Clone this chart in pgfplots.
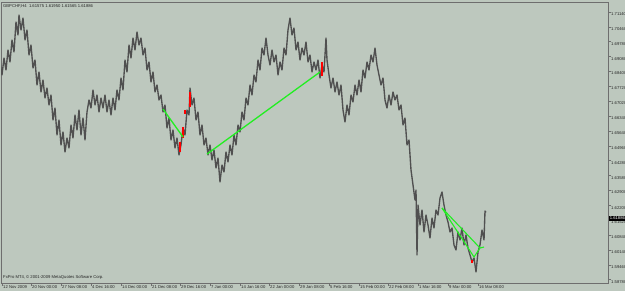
\documentclass[border=0pt]{standalone}
\usepackage{pgfplots}
\pgfplotsset{compat=1.18}
\usepackage{fontspec}
\setmainfont{Liberation Sans}
\definecolor{bgc}{HTML}{BDC8BE}
\definecolor{barc}{HTML}{505050}
\definecolor{framec}{HTML}{6E6E6E}
\definecolor{trend}{HTML}{22EE22}
\newcommand{\mtfont}{\fontsize{4.2}{4.6}\selectfont}
\begin{document}
\begin{tikzpicture}
\fill[bgc] (0,0) rectangle (625bp,291bp);
\useasboundingbox (0,0) rectangle (625bp,291bp);
\begin{axis}[
  at={(1bp,289bp)}, anchor=north west, scale only axis,
  width=607bp, height=281bp,
  xmin=1, xmax=608, ymin=1.58625, ymax=1.71608,
  axis line style={framec, line width=0.8bp},
  xtick pos=left, ytick pos=right, yticklabel pos=right,
  tick align=outside, major tick length=3bp,
  tick style={framec, line width=0.6bp},
  xtick={2,31,61,91,121,151,180,210,240,269,299,329,359,388,418,448,478},
  xticklabels={12 Nov 2009,20 Nov 00:00,27 Nov 08:00,4 Dec 16:00,14 Dec 00:00,21 Dec 08:00,29 Dec 16:00,7 Jan 00:00,14 Jan 16:00,22 Jan 00:00,29 Jan 08:00,5 Feb 16:00,15 Feb 00:00,22 Feb 08:00,1 Mar 16:00,9 Mar 00:00,16 Mar 08:00},
  xticklabel style={anchor=north west, font=\mtfont, inner sep=0pt, xshift=1bp, yshift=1bp, text=black!85},
  ytick={1.71140,1.70460,1.69780,1.69080,1.68400,1.67720,1.67020,1.66340,1.65640,1.64960,1.64280,1.63580,1.62900,1.62200,1.61520,1.60840,1.60140,1.59460,1.58780},
  yticklabels={1.71140,1.70460,1.69780,1.69080,1.68400,1.67720,1.67020,1.66340,1.65640,1.64960,1.64280,1.63580,1.62900,1.62200,1.61520,1.60840,1.60140,1.59460,1.58780},
  yticklabel style={anchor=west, font=\mtfont, inner sep=0pt, xshift=0bp, yshift=-2bp, text=black!85},
]
\addplot[barc, line width=1.35bp, line join=round] coordinates {
(0,1.68836) (2,1.68235) (4,1.69020) (6,1.68466) (8,1.69390) (10,1.68836) (12,1.69852) (14,1.69298)
(16,1.70684) (18,1.70083) (19,1.71007) (21,1.70314) (23,1.70868) (25,1.69852) (27,1.70314) (29,1.69159)
(31,1.69621) (33,1.68558) (35,1.68928) (37,1.67773) (39,1.68374) (41,1.67450) (43,1.68004) (45,1.67172)
(47,1.67634) (49,1.66849) (51,1.67311) (53,1.66156) (55,1.66710) (57,1.65463) (59,1.66156) (61,1.65001)
(63,1.65602) (65,1.64678) (67,1.65324) (69,1.64862) (71,1.65925) (73,1.65324) (75,1.66387) (77,1.65694)
(79,1.66618) (81,1.65463) (83,1.66248) (85,1.65232) (87,1.66526) (89,1.67080) (91,1.66710) (93,1.67542)
(95,1.66849) (97,1.67311) (99,1.66526) (101,1.67172) (103,1.66710) (105,1.67311) (107,1.66526) (109,1.67080)
(111,1.66387) (113,1.67172) (115,1.66618) (117,1.67542) (119,1.67080) (121,1.68096) (123,1.67542) (125,1.68928)
(127,1.68374) (129,1.69621) (131,1.69020) (133,1.69944) (135,1.69390) (137,1.70222) (139,1.69621) (141,1.69944)
(143,1.69159) (145,1.69482) (147,1.68466) (149,1.68836) (151,1.67912) (153,1.68374) (155,1.67450) (157,1.67773)
(159,1.67080) (161,1.67311) (163,1.66526) (165,1.66849) (167,1.65786) (169,1.66248) (171,1.65232) (173,1.65694)
(175,1.64862) (177,1.65324) (179,1.64539) (181,1.65001) (183,1.65786) (185,1.65463) (187,1.66618) (189,1.66387)
(190,1.67634) (192,1.66849) (194,1.67172) (196,1.66156) (198,1.66526) (200,1.65463) (202,1.65925) (204,1.65001)
(206,1.65324) (208,1.64539) (210,1.65001) (212,1.64308) (214,1.64770) (216,1.63938) (218,1.64400) (220,1.63292)
(222,1.64077) (224,1.63754) (226,1.64678) (228,1.64216) (230,1.65001) (232,1.64539) (234,1.65463) (236,1.65001)
(238,1.65925) (240,1.65602) (242,1.66526) (244,1.66156) (246,1.67172) (248,1.66849) (250,1.67773) (252,1.67311)
(254,1.68235) (256,1.67912) (258,1.68928) (260,1.68466) (262,1.69482) (264,1.69159) (266,1.69944) (268,1.69159)
(270,1.68697) (272,1.69390) (274,1.68836) (276,1.69159) (278,1.68235) (280,1.68836) (282,1.68466) (284,1.69482)
(286,1.69159) (288,1.70314) (290,1.70868) (292,1.70083) (294,1.70406) (296,1.69390) (298,1.69760) (300,1.68928)
(302,1.69482) (304,1.69159) (306,1.69760) (308,1.68836) (310,1.69159) (312,1.68374) (314,1.68836) (316,1.68466)
(318,1.68928) (320,1.68096) (322,1.68697) (324,1.68374) (326,1.69944) (327,1.68928) (329,1.68235) (331,1.67634)
(333,1.68096) (335,1.67450) (337,1.67912) (339,1.67311) (341,1.67773) (343,1.66618) (345,1.66064) (347,1.66849)
(349,1.66387) (351,1.67311) (353,1.66988) (355,1.67773) (357,1.67311) (359,1.68004) (361,1.67450) (363,1.68466)
(365,1.68096) (367,1.68836) (369,1.68466) (371,1.69159) (373,1.68836) (375,1.69482) (377,1.68697) (379,1.68235)
(381,1.67773) (383,1.68096) (385,1.67080) (387,1.66710) (389,1.67311) (391,1.66849) (393,1.67450) (395,1.67080)
(397,1.67311) (399,1.66618) (401,1.66849) (403,1.65925) (405,1.66248) (407,1.65001) (409,1.65232) (411,1.63846)
(413,1.63153) (415,1.62460) (416,1.62922) (417,1.59919) (418,1.62229) (420,1.61305) (422,1.61998) (424,1.60982)
(426,1.61767) (428,1.61305) (430,1.60704) (432,1.61628) (434,1.61166) (436,1.61998) (438,1.61767) (440,1.62552)
(442,1.62830) (444,1.62229) (446,1.61767) (448,1.61444) (450,1.60982) (452,1.61166) (454,1.60381) (456,1.60150)
(458,1.60982) (460,1.60612) (462,1.61166) (464,1.60381) (466,1.60843) (468,1.60242) (470,1.59919) (472,1.59596)
(474,1.59780) (476,1.59134) (478,1.60058) (480,1.60381) (482,1.61074) (484,1.60614) (485,1.61950) (486,1.61886)
};
% red candles
\addplot[red, line width=2bp] coordinates {(180,1.65140) (180,1.64678)};
\addplot[red, line width=2bp] coordinates {(183,1.65833) (183,1.65324)};
\addplot[red, line width=2bp] coordinates {(185,1.66618) (185,1.66433)};
\addplot[red, line width=2bp] coordinates {(190,1.67450) (190,1.66757)};
\addplot[red, line width=2bp] coordinates {(322,1.68836) (322,1.68189)};
\addplot[red, line width=1.5bp] coordinates {(472,1.59688) (472,1.59549)};
% trend lines
\addplot[trend, line width=1.3bp] coordinates {(163,1.66664) (183,1.65371)};
\addplot[trend, line width=1.3bp] coordinates {(207,1.64585) (320,1.68374)};
\addplot[trend, line width=1.1bp] coordinates {(442,1.62090) (474,1.59827) (480,1.60242) (484,1.60288)};
\addplot[trend, line width=1.1bp] coordinates {(442,1.62090) (480,1.60242)};
\end{axis}
\node[anchor=west, font=\mtfont, inner sep=0pt, text=black!85] at (3bp,285bp) {GBPCHF,H4\ \ 1.61575 1.61950 1.61565 1.61886};
\node[anchor=west, font=\mtfont, inner sep=0pt, text=black!85] at (3bp,14bp) {FxPro MT4, © 2001-2009 MetaQuotes Software Corp.};
\node[anchor=west, font=\mtfont, inner sep=0.6bp, fill=black, text=white] at (609bp,72.5bp) {1.61886};
\end{tikzpicture}
\end{document}
